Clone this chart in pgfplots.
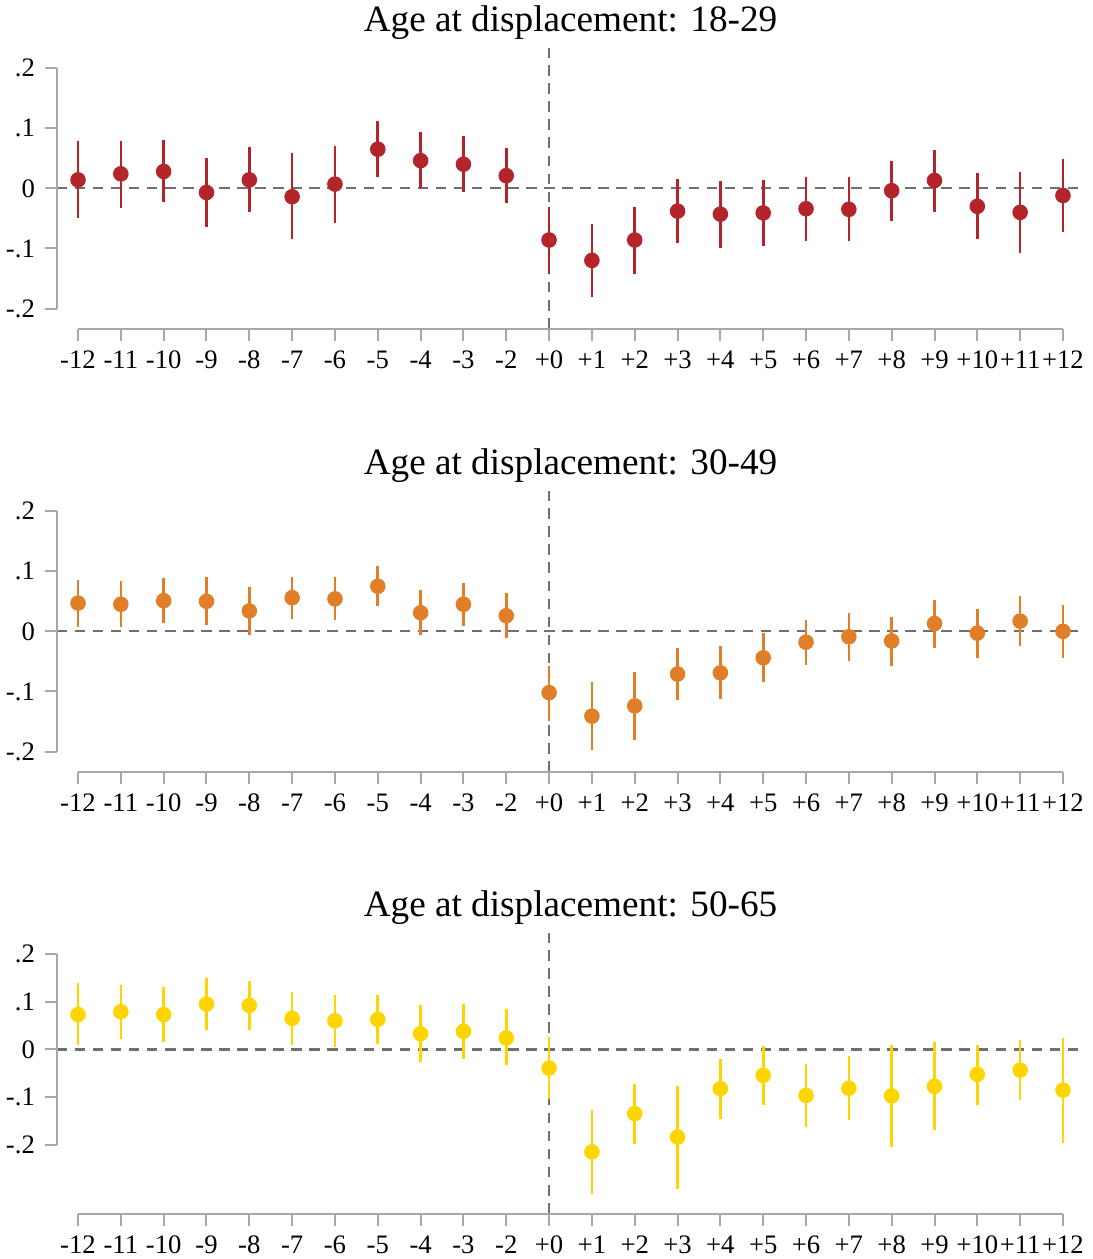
\documentclass[border=0pt]{standalone}
\usepackage{fontspec}
\setmainfont{Liberation Serif}
\usepackage{pgfplots}
\pgfplotsset{compat=1.18}
\usepackage{pgfplotstable}
\definecolor{cred}{HTML}{B3242B}
\definecolor{corange}{HTML}{E07F28}
\definecolor{cyellow}{HTML}{FFD500}
\definecolor{axgray}{HTML}{A8A8A8}
\definecolor{dashgray}{HTML}{707070}

\pgfplotstableread{
x y lo hi
0 0.014 -0.049 0.078
1 0.024 -0.032 0.078
2 0.028 -0.023 0.080
3 -0.007 -0.064 0.050
4 0.014 -0.039 0.068
5 -0.014 -0.085 0.058
6 0.007 -0.057 0.071
7 0.065 0.019 0.112
8 0.046 0.000 0.093
9 0.040 -0.006 0.087
10 0.021 -0.025 0.067
11 -0.086 -0.142 -0.031
12 -0.120 -0.181 -0.059
13 -0.086 -0.143 -0.031
14 -0.038 -0.091 0.015
15 -0.043 -0.099 0.012
16 -0.041 -0.096 0.014
17 -0.034 -0.088 0.019
18 -0.035 -0.087 0.018
19 -0.004 -0.054 0.046
20 0.013 -0.039 0.064
21 -0.030 -0.085 0.026
22 -0.040 -0.108 0.027
23 -0.012 -0.072 0.049
}\dataA

\pgfplotstableread{
x y lo hi
0 0.047 0.008 0.086
1 0.045 0.007 0.083
2 0.051 0.014 0.089
3 0.050 0.011 0.090
4 0.034 -0.006 0.074
5 0.056 0.021 0.091
6 0.054 0.019 0.090
7 0.075 0.042 0.109
8 0.031 -0.006 0.068
9 0.045 0.009 0.081
10 0.026 -0.011 0.063
11 -0.102 -0.149 -0.057
12 -0.141 -0.197 -0.085
13 -0.124 -0.181 -0.068
14 -0.071 -0.115 -0.028
15 -0.069 -0.113 -0.025
16 -0.044 -0.085 -0.003
17 -0.018 -0.056 0.019
18 -0.009 -0.049 0.030
19 -0.016 -0.057 0.024
20 0.013 -0.028 0.052
21 -0.003 -0.044 0.037
22 0.017 -0.024 0.058
23 0.000 -0.044 0.044
}\dataB

\pgfplotstableread{
x y lo hi
0 0.073 0.009 0.138
1 0.079 0.021 0.135
2 0.073 0.015 0.131
3 0.095 0.041 0.150
4 0.092 0.040 0.143
5 0.065 0.010 0.120
6 0.060 0.006 0.114
7 0.063 0.011 0.114
8 0.033 -0.026 0.092
9 0.038 -0.020 0.096
10 0.024 -0.033 0.084
11 -0.039 -0.103 0.026
12 -0.214 -0.302 -0.127
13 -0.134 -0.197 -0.072
14 -0.183 -0.291 -0.076
15 -0.082 -0.146 -0.020
16 -0.054 -0.117 0.008
17 -0.096 -0.162 -0.030
18 -0.081 -0.148 -0.013
19 -0.097 -0.203 0.009
20 -0.077 -0.168 0.015
21 -0.052 -0.115 0.010
22 -0.043 -0.106 0.020
23 -0.085 -0.196 0.025
}\dataC

\pgfplotsset{
  panel/.style={
    width=370pt, height=101pt, scale only axis,
    xmin=-0.5, xmax=23.5,
    axis x line*=bottom, axis y line*=left,
    axis line style={draw=none},
    tick align=outside, major tick length=4.3pt,
    tick style={axgray, line width=0.72pt},
    tick label style={font=\fontsize{9.6pt}{11pt}\selectfont},
    xticklabel style={text height=6.6pt, text depth=0pt},
    xtick={0,...,23},
    xticklabels={-12,-11,-10,-9,-8,-7,-6,-5,-4,-3,-2,+0,+1,+2,+3,+4,+5,+6,+7,+8,+9,+10,+11,+12},
    ytick={-0.2,-0.1,0,0.1,0.2},
    yticklabels={-.2,-.1,0,.1,.2},
    clip=false,
    title style={font=\fontsize{13.4pt}{16pt}\selectfont, anchor=base, at={(0.5,1)}, yshift=-0.2pt},
  },
  refline/.style={dashgray, line width=0.75pt, dash pattern=on 3.8pt off 2.7pt, forget plot, mark=none},
  ci/.style={only marks, mark=*, mark size=2.6pt, mark options={draw=#1, fill=#1},
    error bars/.cd, y dir=both, y explicit, error mark=none,
    error bar style={#1, line width=0.95pt}},
}

\begin{document}
\begin{tikzpicture}
\useasboundingbox (-20.38pt,17.28pt) rectangle (373.1pt,-435.96pt);

\begin{axis}[panel, at={(0pt,0pt)}, anchor=north west,
  ymin=-0.2333, ymax=0.2333, title={Age at displacement: 18-29}]
\addplot[refline] coordinates {(-0.5,0) (23.5,0)};
\addplot[refline] coordinates {(11,-0.2333) (11,0.2333)};
\addplot[ci=cred] table[x=x, y=y, y error plus expr=\thisrow{hi}-\thisrow{y}, y error minus expr=\thisrow{y}-\thisrow{lo}] {\dataA};
\draw[axgray, line width=0.72pt] (axis cs:0,-0.2333) -- (axis cs:23,-0.2333);
\draw[axgray, line width=0.72pt] (axis cs:-0.5,-0.2) -- (axis cs:-0.5,0.2);
\end{axis}

\begin{axis}[panel, at={(0pt,-159.5pt)}, anchor=north west,
  ymin=-0.2333, ymax=0.2333, title={Age at displacement: 30-49}]
\addplot[refline] coordinates {(-0.5,0) (23.5,0)};
\addplot[refline] coordinates {(11,-0.2333) (11,0.2333)};
\addplot[ci=corange] table[x=x, y=y, y error plus expr=\thisrow{hi}-\thisrow{y}, y error minus expr=\thisrow{y}-\thisrow{lo}] {\dataB};
\draw[axgray, line width=0.72pt] (axis cs:0,-0.2333) -- (axis cs:23,-0.2333);
\draw[axgray, line width=0.72pt] (axis cs:-0.5,-0.2) -- (axis cs:-0.5,0.2);
\end{axis}

\begin{axis}[panel, at={(0pt,-318.6pt)}, anchor=north west,
  ymin=-0.343, ymax=0.2435, title={Age at displacement: 50-65}]
\addplot[refline] coordinates {(-0.5,0) (23.5,0)};
\addplot[refline] coordinates {(11,-0.343) (11,0.2435)};
\addplot[ci=cyellow] table[x=x, y=y, y error plus expr=\thisrow{hi}-\thisrow{y}, y error minus expr=\thisrow{y}-\thisrow{lo}] {\dataC};
\draw[axgray, line width=0.72pt] (axis cs:0,-0.343) -- (axis cs:23,-0.343);
\draw[axgray, line width=0.72pt] (axis cs:-0.5,-0.2) -- (axis cs:-0.5,0.2);
\end{axis}
\end{tikzpicture}
\end{document}
